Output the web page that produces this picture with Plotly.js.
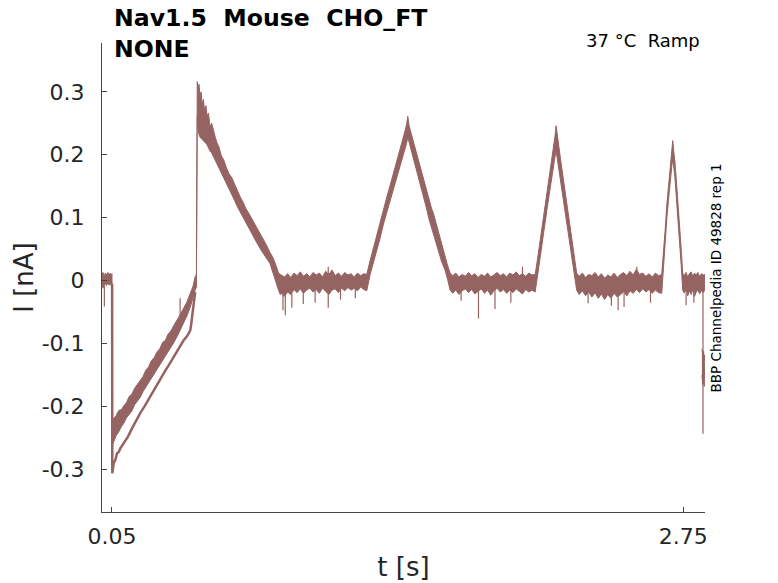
<!DOCTYPE html>
<html>
<head>
<meta charset="utf-8">
<script src="https://cdn.plot.ly/plotly-3.0.1.min.js"></script>
<style>
  html, body { margin: 0; padding: 0; background: #fff; }
  #plot { width: 778px; height: 583px; }
</style>
</head>
<body>
<div id="plot"></div>
<script>
// trace colour used by the channelpedia plots
const traceColor = '#956361';

// noisy current band, upper / lower edge (t in s, I in nA)
const bandT = [
  0.003, 0.008, 0.013, 0.018, 0.024, 0.030, 0.036, 0.042, 0.047, 0.050,
  0.0512, 0.058, 0.070, 0.082, 0.094, 0.105, 0.118, 0.131, 0.144, 0.157, 0.170, 0.184, 0.197, 0.210, 0.223, 0.236,
  0.250, 0.263, 0.276, 0.289, 0.302, 0.315, 0.328, 0.341, 0.356, 0.372, 0.388, 0.404, 0.420, 0.432, 0.443, 0.449,
  0.453, 0.457, 0.461, 0.466, 0.471, 0.476, 0.482, 0.488, 0.494, 0.499, 0.506, 0.513, 0.521, 0.530, 0.538, 0.546,
  0.556, 0.567, 0.578, 0.590, 0.603, 0.617, 0.630, 0.643, 0.656, 0.669, 0.682, 0.695, 0.708, 0.722, 0.735, 0.750,
  0.766, 0.781, 0.796, 0.809, 0.821, 0.829, 0.837, 0.845, 0.853,
  0.865, 0.880, 0.895, 0.910, 0.925, 0.940, 0.955, 0.970, 0.985, 1.000, 1.015, 1.030, 1.045, 1.060, 1.075,
  1.090, 1.105, 1.120, 1.135, 1.150, 1.165, 1.180, 1.195, 1.210, 1.225, 1.240, 1.254,
  1.270, 1.285, 1.300, 1.316, 1.333, 1.349, 1.365, 1.380, 1.396, 1.412, 1.424, 1.435, 1.442, 1.448, 1.454,
  1.462, 1.472, 1.484, 1.495, 1.506, 1.520, 1.534, 1.548, 1.560, 1.569, 1.582, 1.595, 1.608, 1.624, 1.636, 1.648,
  1.660, 1.675, 1.690, 1.705, 1.720, 1.735, 1.750, 1.765, 1.780, 1.795, 1.810, 1.825, 1.840, 1.855, 1.870,
  1.885, 1.900, 1.915, 1.930, 1.945, 1.960, 1.975, 1.990, 2.005, 2.020, 2.035, 2.050,
  2.060, 2.070, 2.080, 2.089, 2.098, 2.107, 2.115, 2.122, 2.130, 2.137, 2.143, 2.149,
  2.155, 2.162, 2.170, 2.177, 2.183, 2.192, 2.201, 2.210, 2.218, 2.226, 2.236, 2.246,
  2.258, 2.273, 2.288, 2.303, 2.318, 2.333, 2.348, 2.363, 2.378, 2.393, 2.408, 2.423, 2.438, 2.453, 2.468,
  2.483, 2.498, 2.513, 2.528, 2.543, 2.558, 2.573, 2.588, 2.603, 2.618, 2.633, 2.648,
  2.656, 2.664, 2.672, 2.681, 2.690, 2.696, 2.700, 2.704, 2.710, 2.718, 2.726, 2.734, 2.741, 2.747,
  2.755, 2.763, 2.771, 2.779, 2.787, 2.795, 2.803, 2.811, 2.819, 2.827, 2.835, 2.845, 2.852
];
const bandHi = [
  0.010, 0.013, 0.006, 0.012, 0.009, 0.013, 0.010, 0.012, 0.009, 0.011,
  -0.222, -0.219, -0.214, -0.206, -0.205, -0.199, -0.194, -0.184, -0.180, -0.171, -0.165, -0.157, -0.152, -0.142, -0.137, -0.127,
  -0.122, -0.113, -0.108, -0.098, -0.095, -0.085, -0.080, -0.072, -0.064, -0.054, -0.044, -0.034, -0.020, -0.010, 0.006, 0.010,
  0.316, 0.305, 0.312, 0.292, 0.300, 0.280, 0.288, 0.268, 0.278, 0.262, 0.266, 0.245, 0.250, 0.236, 0.228, 0.219,
  0.212, 0.198, 0.192, 0.180, 0.170, 0.163, 0.152, 0.142, 0.133, 0.125, 0.115, 0.108, 0.100, 0.092, 0.085, 0.075,
  0.066, 0.056, 0.045, 0.038, 0.028, 0.020, 0.012, 0.010, 0.008,
  0.006, 0.011, 0.005, 0.012, 0.008, 0.014, 0.007, 0.011, 0.006, 0.013, 0.009, 0.012, 0.006, 0.015, 0.010,
  0.017, 0.008, 0.012, 0.007, 0.013, 0.009, 0.011, 0.006, 0.012, 0.008, 0.011, 0.010,
  0.032, 0.052, 0.070, 0.090, 0.112, 0.133, 0.152, 0.170, 0.190, 0.208, 0.222, 0.238, 0.248, 0.261, 0.246,
  0.236, 0.222, 0.206, 0.193, 0.181, 0.164, 0.146, 0.128, 0.115, 0.107, 0.090, 0.074, 0.058, 0.038, 0.024, 0.012,
  0.008, 0.012, 0.006, 0.010, 0.007, 0.013, 0.008, 0.011, 0.005, 0.010, 0.007, 0.012, 0.006, 0.009, 0.013,
  0.008, 0.011, 0.006, 0.012, 0.009, 0.014, 0.008, 0.011, 0.007, 0.012, 0.009, 0.010,
  0.032, 0.055, 0.078, 0.098, 0.122, 0.142, 0.160, 0.176, 0.194, 0.212, 0.228, 0.246,
  0.228, 0.210, 0.192, 0.176, 0.162, 0.140, 0.117, 0.096, 0.076, 0.055, 0.032, 0.012,
  0.007, 0.012, 0.005, 0.010, 0.008, 0.013, 0.006, 0.011, 0.004, 0.009, 0.006, 0.012, 0.005, 0.010, 0.013,
  0.008, 0.015, 0.009, 0.018, 0.010, 0.012, 0.007, 0.011, 0.006, 0.012, 0.008, 0.010,
  0.040, 0.080, 0.120, 0.155, 0.190, 0.210, 0.2225, 0.208, 0.190, 0.155, 0.120, 0.080, 0.045, 0.012,
  0.008, 0.013, 0.006, 0.011, 0.014, 0.007, 0.012, 0.009, 0.013, 0.006, 0.011, 0.009, 0.010
];
const bandLo = [
  -0.004, -0.012, -0.010, -0.004, -0.008, -0.003, -0.007, -0.004, -0.008, -0.005,
  -0.262, -0.256, -0.246, -0.240, -0.232, -0.227, -0.218, -0.212, -0.207, -0.197, -0.192, -0.185, -0.176, -0.170, -0.163, -0.155,
  -0.148, -0.142, -0.133, -0.127, -0.121, -0.112, -0.106, -0.099, -0.090, -0.080, -0.068, -0.056, -0.042, -0.030, -0.015, -0.010,
  0.260, 0.240, 0.232, 0.228, 0.226, 0.224, 0.222, 0.220, 0.218, 0.216, 0.212, 0.206, 0.203, 0.197, 0.193, 0.187,
  0.180, 0.172, 0.165, 0.156, 0.147, 0.136, 0.127, 0.117, 0.107, 0.099, 0.091, 0.083, 0.075, 0.068, 0.060, 0.051,
  0.042, 0.035, 0.028, 0.016, 0.003, -0.006, -0.015, -0.022, -0.020,
  -0.025, -0.018, -0.022, -0.014, -0.019, -0.013, -0.020, -0.015, -0.012, -0.018, -0.014, -0.020, -0.012, -0.017, -0.022,
  -0.015, -0.013, -0.019, -0.012, -0.016, -0.011, -0.015, -0.012, -0.016, -0.010, -0.014, -0.016,
  0.010, 0.028, 0.046, 0.066, 0.090, 0.112, 0.130, 0.147, 0.164, 0.181, 0.196, 0.210, 0.218, 0.228, 0.222,
  0.210, 0.196, 0.181, 0.167, 0.155, 0.136, 0.118, 0.098, 0.085, 0.075, 0.058, 0.044, 0.030, 0.017, 0.002, -0.015,
  -0.020, -0.015, -0.022, -0.016, -0.013, -0.019, -0.014, -0.021, -0.017, -0.013, -0.020, -0.015, -0.023, -0.016, -0.012,
  -0.018, -0.014, -0.020, -0.015, -0.019, -0.013, -0.017, -0.021, -0.014, -0.018, -0.015, -0.018,
  0.006, 0.030, 0.052, 0.074, 0.098, 0.116, 0.134, 0.150, 0.168, 0.184, 0.196, 0.206,
  0.198, 0.182, 0.164, 0.148, 0.134, 0.112, 0.090, 0.070, 0.050, 0.030, 0.008, -0.015,
  -0.022, -0.016, -0.024, -0.018, -0.026, -0.019, -0.028, -0.021, -0.030, -0.022, -0.028, -0.020, -0.026, -0.022, -0.018,
  -0.024, -0.016, -0.020, -0.014, -0.019, -0.013, -0.018, -0.014, -0.020, -0.015, -0.019, -0.020,
  0.014, 0.054, 0.098, 0.132, 0.165, 0.183, 0.192, 0.183, 0.165, 0.132, 0.098, 0.055, 0.020, -0.015,
  -0.020, -0.015, -0.024, -0.016, -0.022, -0.014, -0.025, -0.018, -0.015, -0.021, -0.016, -0.019, -0.014
];

// second sweep that stays lower during the first ramp
const lowT = [0.0505, 0.0515, 0.058, 0.066, 0.074, 0.082, 0.090, 0.105, 0.125, 0.144, 0.164, 0.184, 0.203,
  0.223, 0.243, 0.263, 0.282, 0.302, 0.322, 0.341, 0.365, 0.388, 0.405, 0.420, 0.424, 0.428, 0.436, 0.443];
const lowI = [-0.005, -0.306, -0.290, -0.285, -0.274, -0.272, -0.266, -0.259, -0.248, -0.235, -0.222, -0.210, -0.200,
  -0.188, -0.177, -0.166, -0.155, -0.143, -0.132, -0.121, -0.108, -0.095, -0.088, -0.079, -0.070, -0.058, -0.040, -0.018];

// last few ms after the step down
const tailT = [2.838, 2.842, 2.846, 2.849, 2.852];
const tailHi = [-0.108, -0.120, -0.112, -0.125, -0.118];
const tailLo = [-0.150, -0.165, -0.158, -0.168, -0.160];

// single noise spikes sticking out of the band
const spikeT = [0.014, 0.372, 0.858, 0.869, 0.900, 0.954, 1.010, 1.072, 1.072, 1.130, 1.200,
  1.700, 1.782, 1.860, 1.935, 1.990, 2.300, 2.410, 2.442, 2.470, 2.530, 2.595, 2.763, 2.800, 2.843];
const spikeFrom = [-0.008, -0.060, -0.020, -0.020, -0.020, -0.015, -0.015, -0.015, 0.010, -0.015, -0.012,
  -0.015, -0.015, -0.015, -0.015, 0.010, -0.020, -0.020, -0.020, -0.020, 0.010, -0.015, -0.020, -0.020, -0.005];
const spikeTo = [-0.041, -0.028, -0.047, -0.055, -0.043, -0.037, -0.035, -0.043, 0.022, -0.030, -0.028,
  -0.032, -0.060, -0.045, -0.035, 0.022, -0.036, -0.040, -0.047, -0.042, 0.022, -0.035, -0.039, -0.035, -0.243];

// axis ticks
const xTicks = [0.05, 2.75];
const xTickText = ['0.05', '2.75'];
const yTicks = [-0.3, -0.2, -0.1, 0, 0.1, 0.2, 0.3];
const yTickText = ['-0.3', '-0.2', '-0.1', '0', '0.1', '0.2', '0.3'];

function bandPolygon(t, hi, lo) {
  return {
    x: t.concat(t.slice().reverse()),
    y: hi.concat(lo.slice().reverse()),
    type: 'scatter', mode: 'lines', fill: 'toself',
    fillcolor: traceColor,
    line: { color: traceColor, width: 1 },
    hoverinfo: 'skip'
  };
}

const spikeX = [], spikeY = [];
spikeT.forEach((t, i) => {
  spikeX.push(t, t, null);
  spikeY.push(spikeFrom[i], spikeTo[i], null);
});

const data = [
  bandPolygon(bandT, bandHi, bandLo),
  bandPolygon(tailT, tailHi, tailLo),
  { x: lowT, y: lowI, type: 'scatter', mode: 'lines', line: { color: traceColor, width: 2.5 } },
  { x: spikeX, y: spikeY, type: 'scatter', mode: 'lines', connectgaps: false, line: { color: traceColor, width: 1.2 } }
];

const axisFont = { family: 'DejaVu Sans', size: 22, color: '#262626' };
const titleFont = { family: 'DejaVu Sans', size: 26, color: '#262626' };
const baseAxis = {
  showgrid: false, zeroline: false, showline: true,
  linecolor: '#444', linewidth: 1,
  ticks: 'inside', ticklen: 5, tickcolor: '#444',
  tickfont: axisFont, tickmode: 'array'
};

const layout = {
  width: 778, height: 583,
  margin: { l: 102, r: 73, t: 43, b: 71 },
  paper_bgcolor: '#fff', plot_bgcolor: '#fff',
  showlegend: false,
  title: {
    text: '<b>Nav1.5\u00a0 Mouse\u00a0 CHO_FT<br>NONE</b>',
    font: { family: 'DejaVu Sans', size: 23.6, color: '#000' },
    xref: 'container', x: 114 / 778, xanchor: 'left',
    yref: 'container', y: 0.955, yanchor: 'top'
  },
  xaxis: Object.assign({}, baseAxis, {
    range: [0.0028, 2.8525],
    tickvals: xTicks, ticktext: xTickText,
    ticklabelstandoff: 5,
    title: { text: 't [s]', font: titleFont, standoff: 9 }
  }),
  yaxis: Object.assign({}, baseAxis, {
    range: [-0.3674, 0.3775],
    tickvals: yTicks, ticktext: yTickText,
    ticklabelstandoff: 12,
    title: { text: 'I [nA]', font: titleFont, standoff: 0 }
  }),
  annotations: [
    {
      text: '37 °C\u00a0 Ramp', xref: 'paper', yref: 'paper',
      x: 0.995, y: 1.006, xanchor: 'right', yanchor: 'middle', showarrow: false,
      font: { family: 'DejaVu Sans', size: 18, color: '#000' }
    },
    {
      text: 'BBP Channelpedia ID 49828 rep 1', xref: 'paper', yref: 'paper',
      x: 1.019, y: 0.499, xanchor: 'center', yanchor: 'middle', textangle: -90, showarrow: false,
      font: { family: 'DejaVu Sans', size: 13.5, color: '#000' }
    }
  ]
};

Plotly.newPlot('plot', data, layout, { staticPlot: true, displayModeBar: false });
</script>
</body>
</html>
